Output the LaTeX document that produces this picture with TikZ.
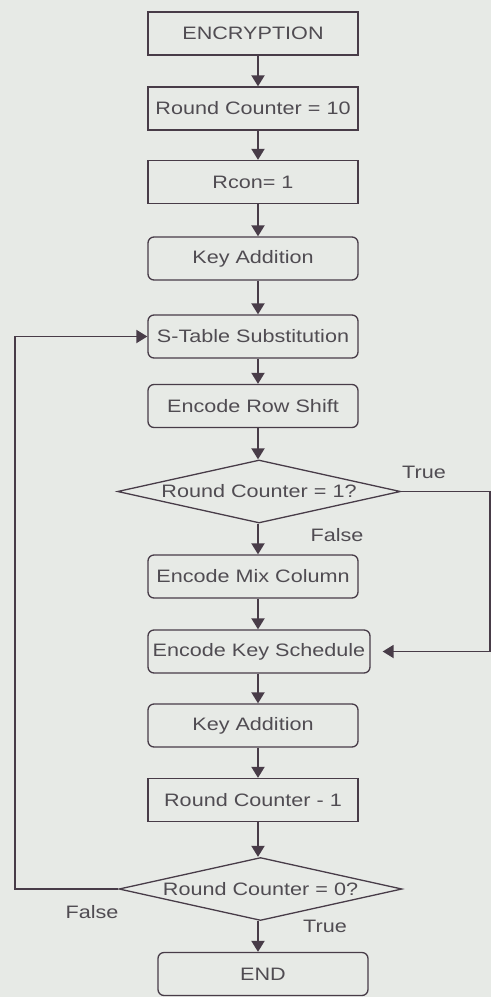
\documentclass[tikz,border=0pt]{standalone}
\usepackage{fontspec}
\setmainfont{Liberation Sans}[FakeStretch=1.2]
\usetikzlibrary{arrows.meta,shapes.geometric}
\definecolor{bg}{RGB}{231,234,230}
\definecolor{ln}{RGB}{72,60,72}
\definecolor{tx}{RGB}{80,76,82}
\begin{document}
\begin{tikzpicture}[x=1pt,y=-1pt,
  box/.style={draw=ln,line width=1.3pt,fill=bg,text=tx,minimum width=210pt,minimum height=43pt,inner sep=0pt,font=\fontsize{18}{20}\selectfont},
  rbox/.style={box,rounded corners=6pt},
  dec/.style={diamond,draw=ln,line width=1.3pt,fill=bg,text=tx,inner sep=0pt,minimum width=283pt,minimum height=63pt,aspect=4.5,font=\fontsize{18}{20}\selectfont},
  arr/.style={draw=ln,line width=1.9pt,-{Triangle[width=13pt,length=11pt]}},
  lbl/.style={text=tx,inner sep=0pt,font=\fontsize{18}{20}\selectfont}]
\fill[bg] (0,0) rectangle (491,997);
\useasboundingbox (0,0) rectangle (491,997);
\coordinate (ax) at (258,0);
\coordinate (lx) at (15,0);
\coordinate (rx) at (490,0);

\node[box]  (enc)  at (253,33.5)  {ENCRYPTION};
\node[box]  (rc10) at (253,108.5) {Round Counter = 10};
\node[box]  (rcon) at (253,182)   {Rcon= 1};
\node[rbox] (ka1)  at (253,258.5) {Key Addition};
\node[rbox] (sts)  at (253,336.5) {S-Table Substitution};
\node[rbox] (ers)  at (253,406)   {Encode Row Shift};
\node[dec]  (d1)   at (259,491.5) {Round Counter = 1?};
\node[rbox] (emc)  at (253,576.5) {Encode Mix Column};
\node[rbox,minimum width=222pt] (eks) at (259,651.5) {Encode Key Schedule};
\node[rbox] (ka2)  at (253,725.5) {Key Addition};
\node[box]  (rcm)  at (253,800)   {Round Counter - 1};
\node[dec]  (d2)   at (260.5,889) {Round Counter = 0?};
\node[rbox] (fin)  at (263,974)   {END};

\draw[arr] (enc.south -| ax) -- (rc10.north -| ax);
\draw[arr] (rc10.south -| ax) -- (rcon.north -| ax);
\draw[arr] (rcon.south -| ax) -- (ka1.north -| ax);
\draw[arr] (ka1.south -| ax) -- (sts.north -| ax);
\draw[arr] (sts.south -| ax) -- (ers.north -| ax);
\draw[arr] (ers.south -| ax) -- (d1.north -| ax);
\draw[arr] (d1.south -| ax) -- (emc.north -| ax);
\draw[arr] (emc.south -| ax) -- (eks.north -| ax);
\draw[arr] (eks.south -| ax) -- (ka2.north -| ax);
\draw[arr] (ka2.south -| ax) -- (rcm.north -| ax);
\draw[arr] (rcm.south -| ax) -- (d2.north -| ax);
\draw[arr] (d2.south -| ax) -- (fin.north -| ax);

\draw[arr] (d2.west) -- (lx |- d2.west) -- (lx |- sts.west) -- (sts.west);
\draw[arr,shorten >=12pt] (d1.east) -- (rx |- d1.east) -- (rx |- eks.east) -- (eks.east);

\node[lbl] (t1) at (424,472) {True};
\node[lbl] (f1) at (337,535) {False};
\node[lbl] (f2) at (92,912) {False};
\node[lbl] (t2) at (325,926) {True};
\end{tikzpicture}
\end{document}
